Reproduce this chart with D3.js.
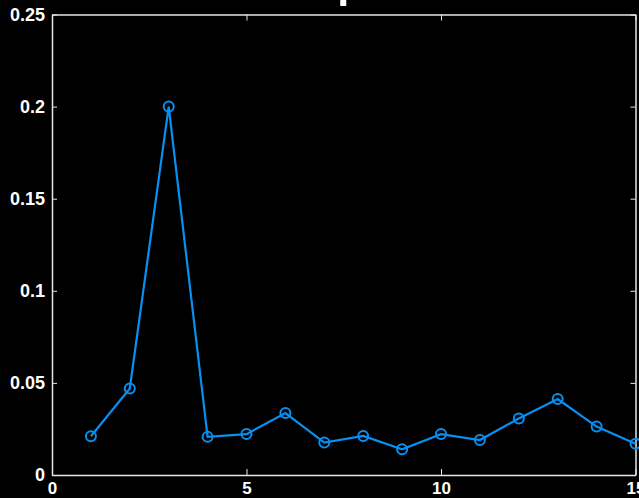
<!DOCTYPE html>
<html>
<head>
<meta charset="utf-8">
<script src="https://cdn.jsdelivr.net/npm/d3@7"></script>
<style>
  html, body { margin: 0; padding: 0; background: #000; }
  svg { display: block; }
  .tick text { font-family: "Liberation Sans", Arial, sans-serif; font-weight: bold; }
</style>
</head>
<body>
<svg id="chart" width="639" height="498"></svg>
<script>
// Series: x index and measured value
const xValues = [1, 2, 3, 4, 5, 6, 7, 8, 9, 10, 11, 12, 13, 14, 15];
const yValues = [0.021, 0.047, 0.2, 0.0207, 0.0222, 0.0336, 0.0176, 0.0212, 0.014, 0.0222, 0.019, 0.0307, 0.0412, 0.0263, 0.017];
const xTicks = [0, 5, 10, 15];
const yTicks = [0, 0.05, 0.1, 0.15, 0.2, 0.25];
const xDomain = [0, 15];
const yDomain = [0, 0.25];

const W = 639, H = 498;
const margin = { left: 52, right: 3.5, top: 14.5, bottom: 23 };
const svg = d3.select("#chart");
svg.append("rect").attr("width", W).attr("height", H).attr("fill", "#000");

const x = d3.scaleLinear().domain(xDomain).range([margin.left, W - margin.right]);
const y = d3.scaleLinear().domain(yDomain).range([H - margin.bottom, margin.top]);

const axisColor = "#e6e6e6";

function style(size) {
  return g => {
    g.select(".domain").attr("stroke", axisColor).attr("stroke-width", 1.5);
    g.selectAll(".tick line").attr("stroke", axisColor).attr("stroke-width", 1);
    g.selectAll(".tick text").attr("fill", "#fff").attr("font-size", size);
  };
}

// bottom axis (ticks point inward)
svg.append("g")
  .attr("transform", `translate(0,${y(0)})`)
  .call(d3.axisBottom(x).tickValues(xTicks).tickSize(-6).tickSizeOuter(0).tickPadding(7).tickFormat(d3.format("d")))
  .call(style(17));

// top axis mirror
svg.append("g")
  .attr("transform", `translate(0,${y(0.25)})`)
  .call(d3.axisTop(x).tickValues(xTicks).tickSize(-6).tickSizeOuter(0).tickFormat(""))
  .call(style(17));

// left axis
svg.append("g")
  .attr("transform", `translate(${x(0)},0)`)
  .call(d3.axisLeft(y).tickValues(yTicks).tickSize(-5).tickSizeOuter(0).tickPadding(7).tickFormat(d => d === 0 ? "0" : String(+d.toFixed(2))))
  .call(style(18));

// right axis mirror
svg.append("g")
  .attr("transform", `translate(${x(15)},0)`)
  .call(d3.axisRight(y).tickValues(yTicks).tickSize(-5).tickSizeOuter(0).tickFormat(""))
  .call(style(18));

// fragment of the title above the plot area
svg.append("rect")
  .attr("x", (x(0) + x(15)) / 2 - 3.5).attr("y", 0)
  .attr("width", 6).attr("height", 6).attr("fill", "#fff");

const pts = xValues.map((v, i) => [v, yValues[i]]);
const lineColor = "#0590f2";

svg.append("path")
  .datum(pts)
  .attr("fill", "none")
  .attr("stroke", lineColor)
  .attr("stroke-width", 2.2)
  .attr("d", d3.line().x(d => x(d[0])).y(d => y(d[1])));

svg.selectAll("circle.m")
  .data(pts)
  .join("circle")
  .attr("class", "m")
  .attr("cx", d => x(d[0]))
  .attr("cy", d => y(d[1]))
  .attr("r", 5)
  .attr("fill", "none")
  .attr("stroke", lineColor)
  .attr("stroke-width", 2);
</script>
</body>
</html>
